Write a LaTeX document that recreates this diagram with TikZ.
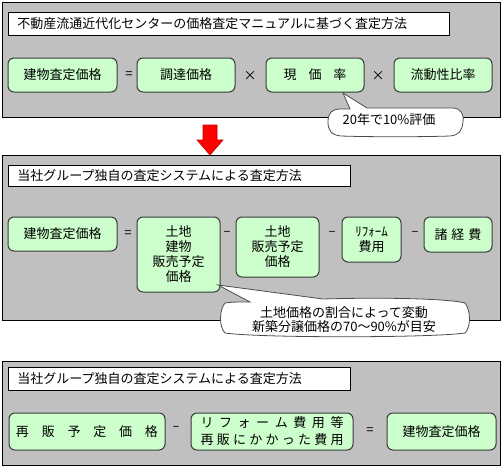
\documentclass[tikz,border=0pt]{standalone}
\usepackage{fontspec}
\newfontfamily\jp{Noto Sans CJK JP}
\definecolor{panelgray}{HTML}{C0C0C0}
\definecolor{boxgreen}{HTML}{CCFFCC}
\definecolor{boxline}{HTML}{3A3A3A}
\begin{document}
\begin{tikzpicture}[x=1pt,y=-1pt,
 panel/.style={draw=black, line width=0.8pt, fill=panelgray},
 titlebox/.style={draw=black, line width=0.8pt, fill=white, anchor=west, inner xsep=9pt, inner ysep=0pt, align=left, font=\jp\fontsize{13}{15}\selectfont},
 greenbox/.style={draw=boxline, line width=1pt, fill=boxgreen, rounded corners=6pt, inner sep=0pt, align=center, font=\jp\fontsize{13}{15}\selectfont},
 op/.style={font=\jp\fontsize{13}{15}\selectfont, inner sep=0pt},
 bubble/.style={draw=black!70, line width=0.8pt, fill=white},
 btext/.style={font=\jp\fontsize{13}{14}\selectfont, align=center, inner sep=0pt},
]
\useasboundingbox (0,0) rectangle (501,467);

% panels
\draw[panel] (2,2) rectangle (500,117);
\draw[panel] (2,155) rectangle (500,320);
\draw[panel] (2,361) rectangle (500,465);

% titles
\node[titlebox, text width=423pt, minimum height=23pt] (t1) at (8,23.5) {不動産流通近代化センターの価格査定マニュアルに基づく査定方法};
\node[titlebox, text width=324pt, minimum height=21pt] (t2) at (8,175.5) {当社グループ独自の査定システムによる査定方法};
\node[titlebox, text width=324pt, minimum height=23pt] (t3) at (8,379) {当社グループ独自の査定システムによる査定方法};

% row 1
\node[greenbox, minimum width=109pt, minimum height=34pt] (a1) at (62.5,75) {建物査定価格};
\node[greenbox, minimum width=98pt, minimum height=34pt] (a2) at (186,75) {調達価格};
\node[greenbox, minimum width=98pt, minimum height=34pt] (a3) at (315,75) {現\hspace{12pt}価\hspace{12pt}率};
\node[greenbox, minimum width=98pt, minimum height=34pt] (a4) at (443,75) {流動性比率};
\node[op] (o1) at (129,75) {=};
\node[op] (o2) at (250,76) {×};
\node[op] (o3) at (378,76) {×};

% row 2
\node[greenbox, minimum width=109pt, minimum height=34pt] (b1) at (62.5,234) {建物査定価格};
\node[greenbox, minimum width=83pt, minimum height=75pt] (b2) at (178.5,254.5) {土地\\建物\\販売予定\\価格};
\node[greenbox, minimum width=83pt, minimum height=60pt] (b3) at (277.5,247) {土地\\販売予定\\価格};
\node[greenbox, minimum width=59pt, minimum height=45pt] (b4) at (371.5,239.5) {ﾘﾌｫｰﾑ\\費用};
\node[greenbox, minimum width=68pt, minimum height=35pt] (b5) at (458,234.5) {諸\hspace{4pt}経\hspace{4pt}費};
\node[op] (o4) at (128,234) {=};
\node[op] (o5) at (227,233) {–};
\node[op] (o6) at (332,233) {–};
\node[op] (o7) at (415,233) {–};

% row 3
\node[greenbox, minimum width=156pt, minimum height=37pt] (c1) at (87,431.5) {\makebox[142pt][s]{再\hfill 販\hfill 予\hfill 定\hfill 価\hfill 格}};
\node[greenbox, minimum width=162pt, minimum height=37pt, font=\jp\fontsize{13}{17}\selectfont] (c2) at (272,431.5) {\makebox[143pt][s]{リ\hfill フ\hfill ォ\hfill ー\hfill ム\hfill 費\hfill 用\hfill 等}\\\makebox[143pt][s]{再\hfill 販\hfill に\hfill か\hfill か\hfill っ\hfill た\hfill 費\hfill 用}};
\node[greenbox, minimum width=109pt, minimum height=37pt] (c3) at (441.5,431.5) {建物査定価格};
\node[op] (o8) at (176,428) {–};
\node[op] (o9) at (370,431) {=};

% callout 1
\coordinate (p1) at (343,93);
\draw[bubble] (350,109) -- (p1) -- (367,108)
  -- (452,108) .. controls (461,108) and (464,114) .. (463,122)
  .. controls (462,131) and (459,135) .. (450,136)
  .. controls (420,137) and (370,137) .. (341,136)
  .. controls (331,135) and (328,130) .. (328,122)
  .. controls (328,114) and (331,109) .. (340,109) -- cycle;
\node[btext] (k1) at (389,120) {20年で10\%評価};

% callout 2
\coordinate (p2) at (218,285);
\draw[bubble] (250,302) -- (p2) -- (323,299)
  .. controls (390,297) and (450,299) .. (465,303)
  .. controls (471,311) and (471,327) .. (465,333)
  .. controls (430,338) and (260,338) .. (225,333)
  .. controls (219,327) and (219,310) .. (225,303)
  .. controls (233,302) .. (250,302) -- cycle;
\node[btext] (k2) at (344,320) {土地価格の割合によって変動\\新築分譲価格の70～90\%が目安};

% red arrow
\draw[fill=red, draw=red!75!black, line width=0.6pt] (203,125) -- (217,125) -- (217,140) -- (223,140) -- (210,155) -- (197,140) -- (203,140) -- cycle;
\end{tikzpicture}
\end{document}
